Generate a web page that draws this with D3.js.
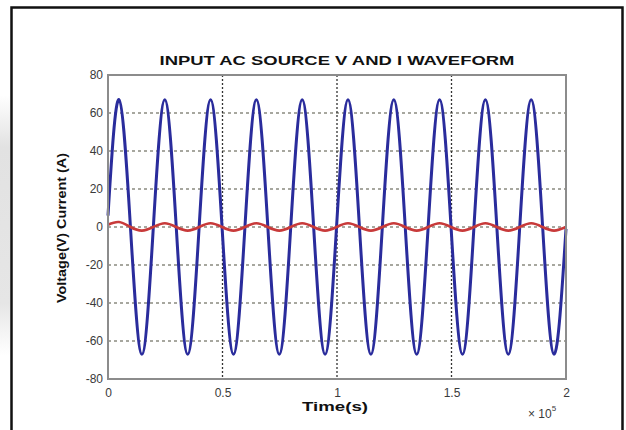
<!DOCTYPE html>
<html>
<head>
<meta charset="utf-8">
<script src="https://cdn.jsdelivr.net/npm/d3@7"></script>
<style>
  html, body { margin: 0; padding: 0; background: #fff; }
  svg { display: block; }
</style>
</head>
<body>
<svg id="chart" width="626" height="430"></svg>
<script>
// ---- Data (time in units of 1e5) ----
const timeKeys = [0, 0.048, 0.098, 0.148, 0.198, 0.248, 0.298, 0.348, 0.398, 0.448,
  0.498, 0.548, 0.598, 0.648, 0.698, 0.748, 0.798, 0.848, 0.898, 0.948,
  0.998, 1.048, 1.098, 1.148, 1.198, 1.248, 1.298, 1.348, 1.398, 1.448,
  1.498, 1.548, 1.598, 1.648, 1.698, 1.748, 1.798, 1.848, 1.898, 1.948,
  2.0];
const voltage = [6,
  67, 0, -67, 0,   67, 0, -67, 0,   67, 0, -67, 0,   67, 0, -67, 0,   67, 0, -67, 0,
  67, 0, -67, 0,   67, 0, -67, 0,   67, 0, -67, 0,   67, 0, -67, 0,   67, 0, -67,
  -1];
const current = [1.2,
  2.6, 0, -1.9, 0,   2.0, 0, -1.9, 0,   2.0, 0, -1.9, 0,   2.0, 0, -1.9, 0,   2.0, 0, -1.9, 0,
  2.0, 0, -1.9, 0,   2.0, 0, -1.9, 0,   2.0, 0, -1.9, 0,   2.0, 0, -1.9, 0,   2.0, 0, -1.9,
  0];
const xTicks = [0, 0.5, 1, 1.5, 2];
const xTickLabels = ["0", "0.5", "1", "1.5", "2"];
const yTicks = [-80, -60, -40, -20, 0, 20, 40, 60, 80];
const yTickLabels = ["-80", "-60", "-40", "-20", "0", "20", "40", "60", "80"];
const titleText = "INPUT AC SOURCE V AND I WAVEFORM";
const xLabel = "Time(s)";
const yLabel = "Voltage(V) Current (A)";

// ---- Layout ----
const svg = d3.select("#chart");
const plot = { left: 108, right: 566, top: 75, bottom: 379 };
const x = d3.scaleLinear().domain([0, 2]).range([plot.left, plot.right]);
const y = d3.scaleLinear().domain([-80, 80]).range([plot.bottom, plot.top]);

// page background strip on left
const grad = svg.append("defs").append("linearGradient")
  .attr("id", "lg").attr("x1", 0).attr("x2", 0).attr("y1", 0).attr("y2", 1);
grad.append("stop").attr("offset", "0%").attr("stop-color", "#fff");
grad.append("stop").attr("offset", "20%").attr("stop-color", "#e2e2e2");
grad.append("stop").attr("offset", "80%").attr("stop-color", "#e6e6e6");
grad.append("stop").attr("offset", "100%").attr("stop-color", "#fff");
svg.append("rect").attr("x", 0).attr("y", 95).attr("width", 10).attr("height", 260)
  .attr("fill", "url(#lg)");

// outer frame (no bottom edge visible)
svg.append("path")
  .attr("d", "M11.5,432 L11.5,7.5 L622.5,7.5 L622.5,432")
  .attr("fill", "none").attr("stroke", "#111").attr("stroke-width", 2.5);

// plot background
svg.append("rect").attr("x", plot.left).attr("y", plot.top)
  .attr("width", plot.right - plot.left).attr("height", plot.bottom - plot.top)
  .attr("fill", "#fff");

// grid lines
svg.append("g").selectAll("line").data(yTicks.filter(d => d !== -80 && d !== 80)).join("line")
  .attr("x1", plot.left).attr("x2", plot.right)
  .attr("y1", d => y(d)).attr("y2", d => y(d))
  .attr("stroke", "#8a8a80").attr("stroke-width", 1.5).attr("stroke-dasharray", "3,3");
svg.append("g").selectAll("line").data(xTicks.filter(d => d !== 0 && d !== 2)).join("line")
  .attr("x1", d => x(d)).attr("x2", d => x(d))
  .attr("y1", plot.top).attr("y2", plot.bottom)
  .attr("stroke", "#333").attr("stroke-width", 1.3).attr("stroke-dasharray", "2,2");

// lines
const line = d3.line().x((d, i) => x(timeKeys[i])).y(d => y(d)).curve(d3.curveNatural);
svg.append("path").datum(voltage).attr("d", line)
  .attr("fill", "none").attr("stroke", "#2a2c9c").attr("stroke-width", 3);
svg.append("path").datum(current).attr("d", line)
  .attr("fill", "none").attr("stroke", "#c83a3a").attr("stroke-width", 2.6);

// axes box
svg.append("rect").attr("x", plot.left).attr("y", plot.top)
  .attr("width", plot.right - plot.left).attr("height", plot.bottom - plot.top)
  .attr("fill", "none").attr("stroke", "#8c8c8c").attr("stroke-width", 2);

// axes (tick labels)
const xAxis = d3.axisBottom(x).tickValues(xTicks).tickFormat((d, i) => xTickLabels[i])
  .tickSize(0).tickPadding(9);
const gx = svg.append("g").attr("transform", `translate(0,${plot.bottom})`).call(xAxis);
const yAxis = d3.axisLeft(y).tickValues(yTicks).tickFormat((d, i) => yTickLabels[i])
  .tickSize(0).tickPadding(5);
const gy = svg.append("g").attr("transform", `translate(${plot.left},0)`).call(yAxis);
[gx, gy].forEach(g => {
  g.select(".domain").remove();
  g.selectAll("text").attr("font-family", "Liberation Sans, Arial, sans-serif")
    .attr("font-size", 12).attr("fill", "#3a3a3a");
});

// title
svg.append("text").attr("x", 337).attr("y", 65).attr("text-anchor", "middle")
  .attr("font-family", "Liberation Sans, Arial, sans-serif").attr("font-weight", "bold")
  .attr("font-size", 13).attr("fill", "#111")
  .attr("textLength", 355).attr("lengthAdjust", "spacingAndGlyphs")
  .text(titleText);

// x label
svg.append("text").attr("x", 335).attr("y", 411).attr("text-anchor", "middle")
  .attr("font-family", "Liberation Sans, Arial, sans-serif").attr("font-weight", "bold")
  .attr("font-size", 13).attr("fill", "#111")
  .attr("textLength", 66).attr("lengthAdjust", "spacingAndGlyphs")
  .text(xLabel);

// y label
svg.append("text").attr("transform", "translate(66,228) rotate(-90)")
  .attr("text-anchor", "middle")
  .attr("font-family", "Liberation Sans, Arial, sans-serif").attr("font-weight", "bold")
  .attr("font-size", 13).attr("fill", "#111")
  .attr("textLength", 150).attr("lengthAdjust", "spacingAndGlyphs")
  .text(yLabel);

// exponent label
const ex = svg.append("text").attr("x", 528).attr("y", 418)
  .attr("font-family", "Liberation Sans, Arial, sans-serif")
  .attr("font-size", 12).attr("fill", "#3a3a3a");
ex.append("tspan").text("\u00d7 10");
ex.append("tspan").attr("font-size", 8).attr("dy", -7).text("5");
</script>
</body>
</html>
